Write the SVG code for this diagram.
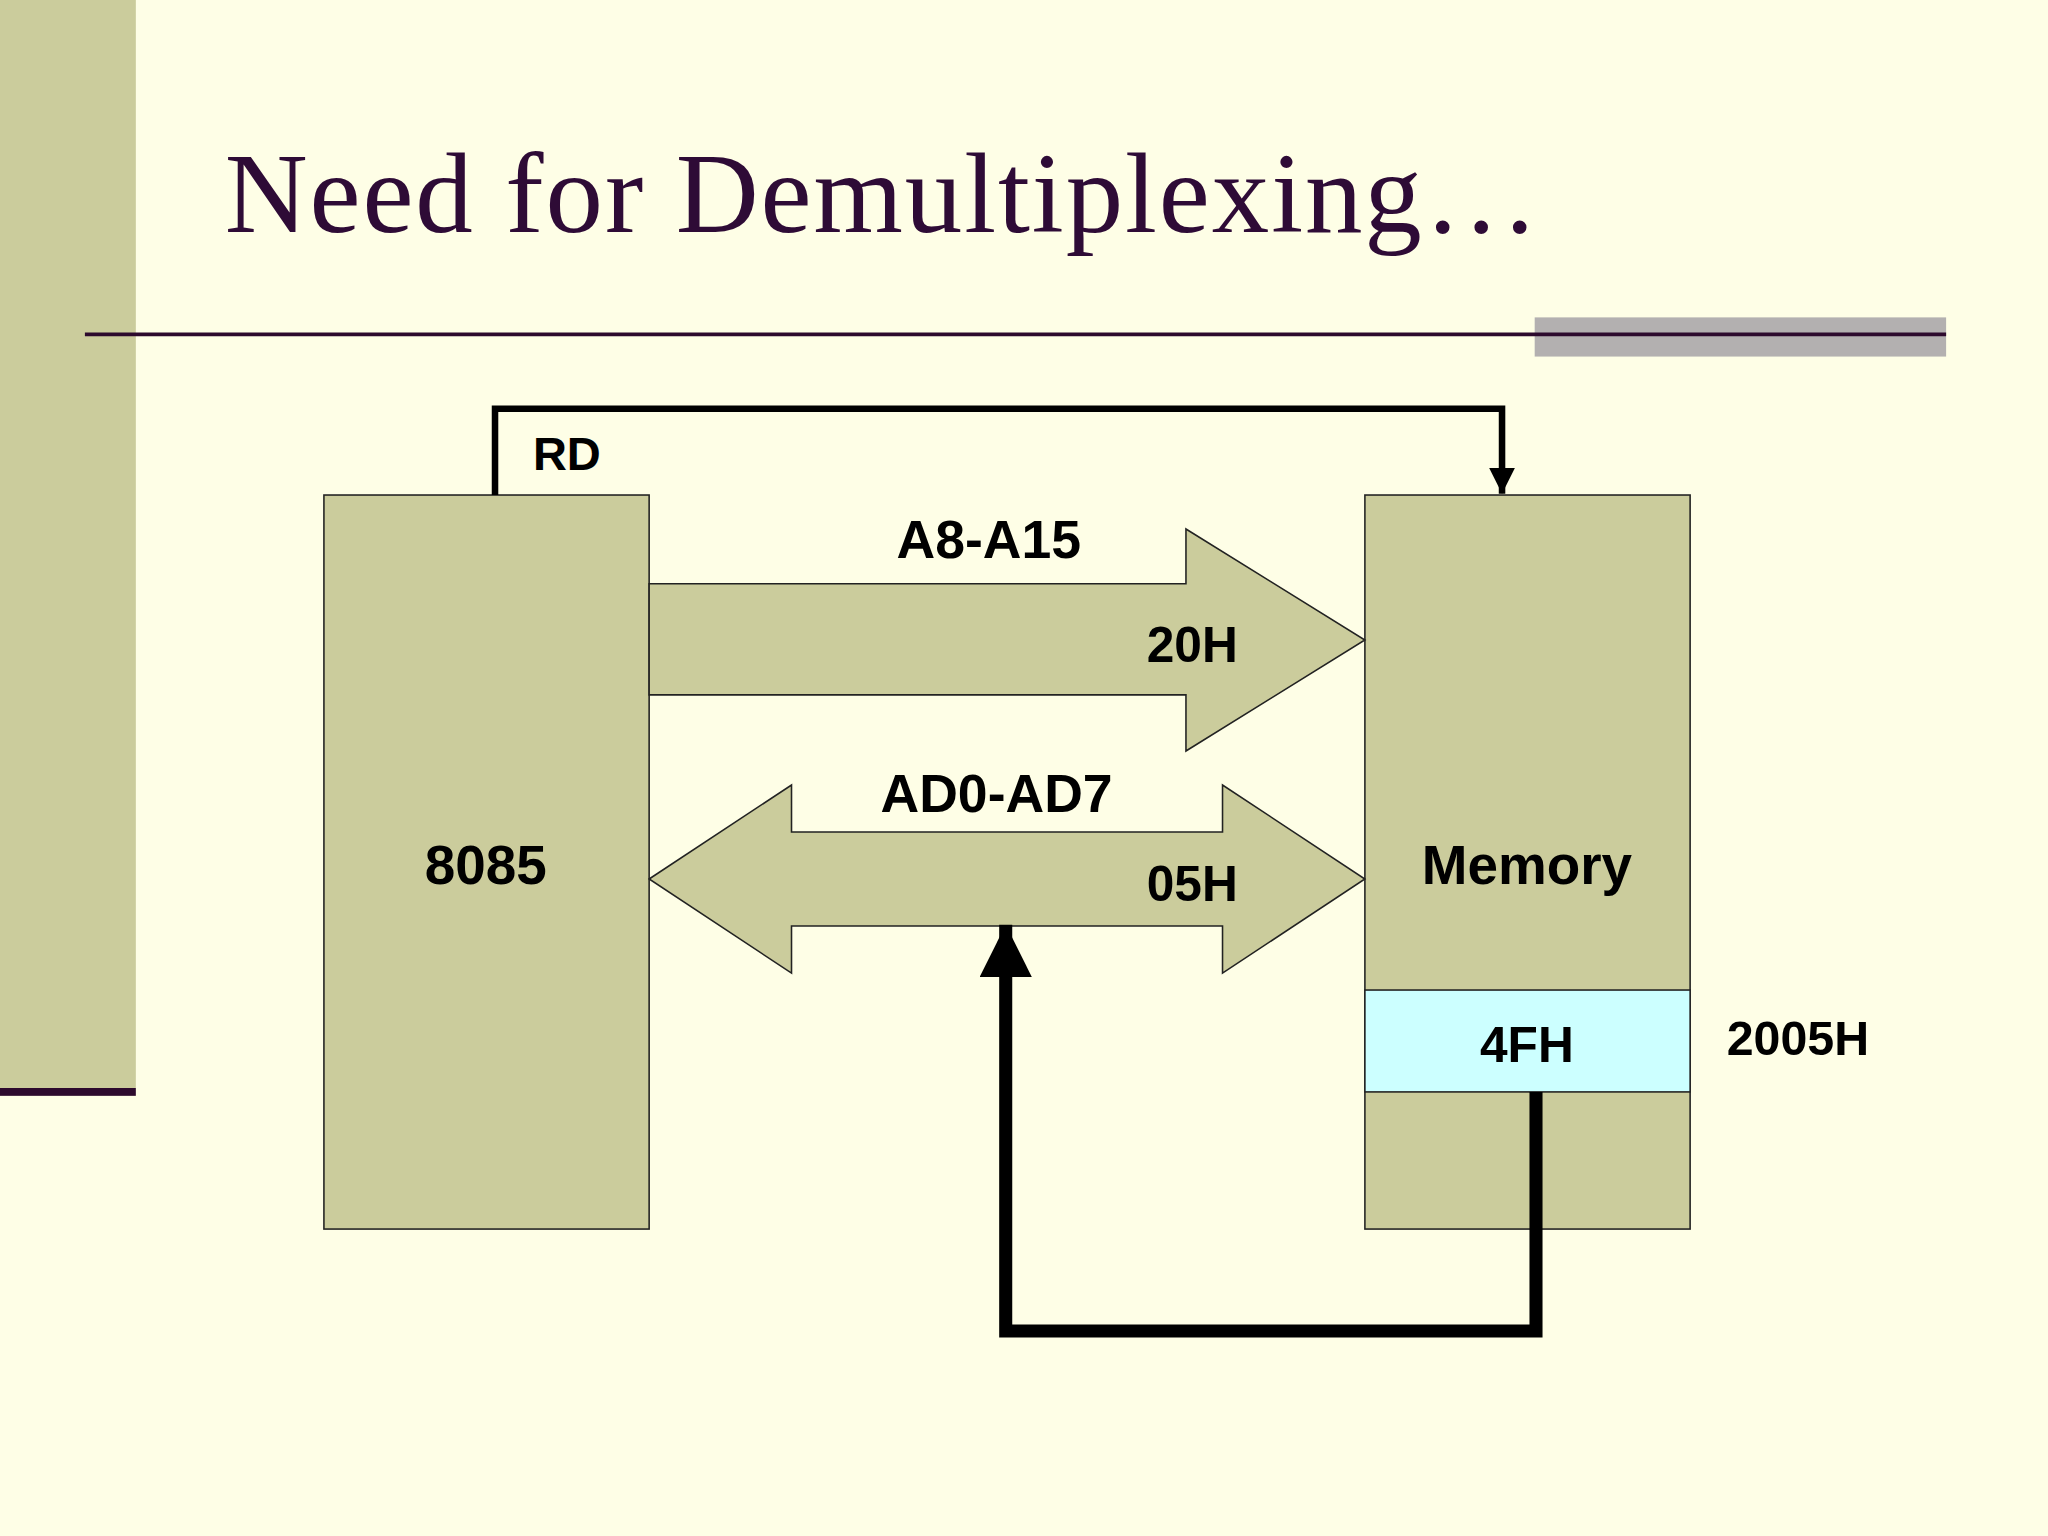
<svg xmlns="http://www.w3.org/2000/svg" width="2048" height="1536" viewBox="0 0 2048 1536">
<defs>
<style>
.box{fill:#cbcc9c;stroke:#222;stroke-width:1.2}
.lbl{font-family:"Liberation Sans",Arial,sans-serif;font-weight:bold;fill:#000}
</style>
<marker id="ah" viewBox="0 0 10 10" refX="10" refY="5" markerWidth="4" markerHeight="4" orient="auto" markerUnits="strokeWidth"><path d="M0,0L10,5L0,10z" fill="#000"/></marker>
</defs>
<rect width="2048" height="1536" fill="#fefee6"/>
<g transform="scale(1.30612)">
<rect x="0" y="0" width="104" height="833" fill="#cbcc9c"/>
<rect x="0" y="833" width="104" height="6" fill="#2d0a2d"/>
<text x="172" y="178" font-family="Liberation Serif,Times New Roman,serif" font-size="88" textLength="1006" fill="#2e0b36">Need for Demultiplexing…</text>
<rect x="1175" y="243" width="315" height="30" fill="#b3b0b0"/>
<line x1="65" y1="256" x2="1490" y2="256" stroke="#2d0a2d" stroke-width="3"/>
<g id="cpu"><rect class="box" x="248" y="379" width="249" height="562"/><text class="lbl" x="372" y="677" font-size="42" text-anchor="middle">8085</text></g>
<g id="memory"><rect class="box" x="1045" y="379" width="249" height="562"/><rect x="1045" y="758" width="249" height="78" fill="#ccffff" stroke="#222" stroke-width="1.2"/><text class="lbl" x="1169" y="677" font-size="42" text-anchor="middle">Memory</text><text class="lbl" x="1169" y="813" font-size="38" text-anchor="middle">4FH</text><text class="lbl" x="1322" y="808" font-size="37">2005H</text></g>
<g id="addrbus"><path class="box" d="M497,447H908V405L1045,490L908,575V532H497Z"/><text class="lbl" x="757" y="427" font-size="41" text-anchor="middle">A8-A15</text><text class="lbl" x="878" y="507" font-size="38">20H</text></g>
<g id="databus"><path class="box" d="M497,673L606,601V637H936V601L1045,673L936,745V709H606V745Z"/><text class="lbl" x="763" y="622" font-size="41" text-anchor="middle">AD0-AD7</text><text class="lbl" x="878" y="690" font-size="38">05H</text></g>
<g id="connectors" fill="none" stroke="#000">
<path d="M379,379V313H1150V378" stroke-width="5" marker-end="url(#ah)"/>
<path d="M1176,836V1019H770V708" stroke-width="10" marker-end="url(#ah)"/>
</g>
<text class="lbl" x="408" y="360" font-size="36">RD</text>
</g>
</svg>
